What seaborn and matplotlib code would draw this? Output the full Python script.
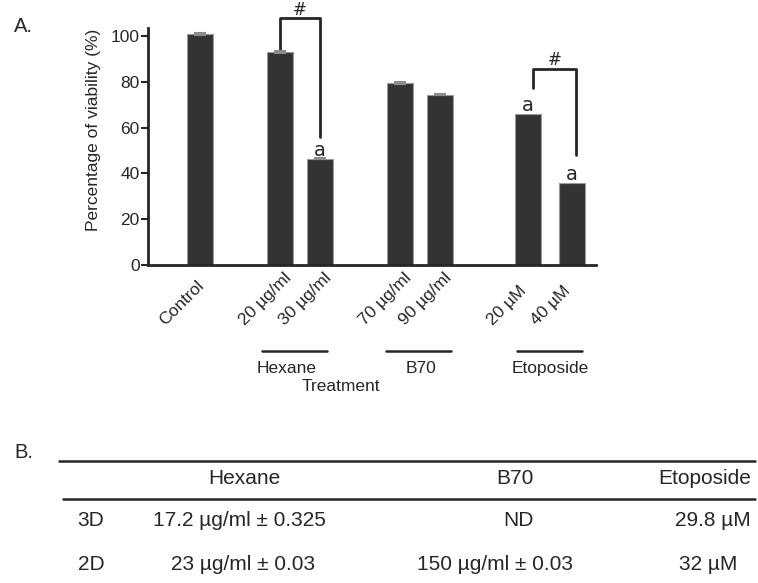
import matplotlib
matplotlib.use("Agg")
import matplotlib.pyplot as plt
from matplotlib import transforms
import numpy as np
import pandas as pd
import seaborn as sns

# ---- data -------------------------------------------------------------
treatments = ["Control", "20 µg/ml", "30 µg/ml", "70 µg/ml", "90 µg/ml", "20 µM", "40 µM"]
viability = [100.9, 92.9, 46.5, 79.6, 74.4, 66.0, 35.8]
viability_err = [0.4, 0.4, 0.4, 0.5, 0.3, 0.0, 0.0]
significance = ["", "", "a", "", "", "a", "a"]
groups = ["Hexane", "B70", "Etoposide"]

table_cols = ["Hexane", "B70", "Etoposide"]
table_rows = ["3D", "2D"]
ic50_3d = ["17.2 µg/ml ± 0.325", "ND", "29.8 µM"]
ic50_2d = ["23 µg/ml ± 0.03", "150 µg/ml ± 0.03", "32 µM"]

# ---- layout -----------------------------------------------------------
bar_pos = [0, 2, 3, 5, 6, 8.2, 9.3]
group_spans = [(1.55, 3.175), (4.65, 6.275), (7.925, 9.55)]
group_label_x = [2.175, 5.525, 8.75]

INK = "#262626"
BAR = "#333333"

sns.set_theme(style="white")
plt.rcParams["font.family"] = ["Liberation Sans", "DejaVu Sans"]
plt.rcParams["text.color"] = INK

W, H = 758, 583
fig = plt.figure(figsize=(W / 100, H / 100), dpi=100)

# overlay in pixel coordinates for panel letters and the IC50 table
ax_t = fig.add_axes([0, 0, 1, 1], zorder=-1)
ax_t.set_xlim(0, W)
ax_t.set_ylim(H, 0)
ax_t.axis("off")

# ---- panel A: bar chart ----------------------------------------------
ax = fig.add_axes([148 / W, 1 - 265 / H, 448 / W, 237 / H])
df = pd.DataFrame({"pos": bar_pos, "viability": viability, "treatment": treatments})
sns.barplot(data=df, x="pos", y="viability", native_scale=True, width=0.67,
            color=BAR, saturation=1, edgecolor="#9a9a9a", linewidth=0.8,
            errorbar=None, ax=ax)

err_x = [p for p, e in zip(bar_pos, viability_err) if e > 0]
err_y = [v for v, e in zip(viability, viability_err) if e > 0]
err_e = [e for e in viability_err if e > 0]
ax.errorbar(err_x, err_y, yerr=err_e, fmt="none", ecolor="#8c8c8c",
            elinewidth=1, capsize=4, capthick=1.5, zorder=3)

ax.set_xlim(-1.3, 9.9)
ax.set_ylim(0, 103.5)
ax.set_yticks([0, 20, 40, 60, 80, 100])
ax.set_xticks([])
sns.despine(ax=ax)
for side in ("left", "bottom"):
    ax.spines[side].set_linewidth(2)
    ax.spines[side].set_color(INK)
ax.tick_params(axis="y", left=True, length=5, width=1.5, direction="out",
               labelsize=12.5, colors=INK, pad=1)
ax.set_ylabel("Percentage of viability (%)", fontsize=12.5, color=INK)
ax.yaxis.set_label_coords(-0.105, 0.57)
ax.set_xlabel("Treatment", fontsize=12.5, color=INK, va="top")
ax.xaxis.set_label_coords(0.431, -0.481)

# rotated treatment labels
blend = transforms.blended_transform_factory(ax.transData, ax.transAxes)
shift = transforms.ScaledTranslation(-0.35, 0, fig.dpi_scale_trans)
for p, lab in zip(bar_pos, treatments):
    ax.text(p, -0.257, lab, transform=blend + shift, rotation=45,
            ha="left", va="baseline", rotation_mode="anchor",
            fontsize=12.5, color=INK)

# group underlines and names
for (x0, x1), gx, g in zip(group_spans, group_label_x, groups):
    ax.plot([x0, x1], [-0.363, -0.363], transform=blend, clip_on=False,
            color=INK, lw=1.8)
    ax.text(gx, -0.435, g, transform=blend, ha="center", va="center",
            fontsize=12.5, color=INK)

# significance letters
for p, v, s in zip(bar_pos, viability, significance):
    if s:
        ax.text(p, v + 1.3, s, ha="center", va="baseline", fontsize=14,
                family="DejaVu Sans", color=INK)

# comparison brackets
ax.plot([2, 2, 3, 3], [94, 108, 108, 56], color=INK, lw=2, clip_on=False)
ax.text(2.5, 109.2, "#", ha="center", va="baseline", fontsize=12,
        family="DejaVu Sans", color=INK, clip_on=False)
ax.plot([8.32, 8.32, 9.4, 9.4], [77.3, 85.6, 85.6, 48], color=INK, lw=2,
        clip_on=False)
ax.text(8.86, 87.3, "#", ha="center", va="baseline", fontsize=12,
        family="DejaVu Sans", color=INK)

# ---- panel letters ----------------------------------------------------
ax_t.text(14, 27, "A.", ha="left", va="center", fontsize=14.5, color=INK)
ax_t.text(14, 452, "B.", ha="left", va="center", fontsize=14.5, color=INK)

# ---- panel B: IC50 table ---------------------------------------------
ax_t.plot([59, 755], [461, 461], color=INK, lw=1.8)
ax_t.plot([63, 755], [499, 499], color=INK, lw=1.8)

header_x = [244, 515, 705]
row_y = [520, 564]
row_label_x = 91
cell_x = [[239, 518, 713], [243, 495, 708]]

for x, c in zip(header_x, table_cols):
    ax_t.text(x, 479, c, ha="center", va="center", fontsize=15, color=INK)
for y, r, vals, xs in zip(row_y, table_rows, [ic50_3d, ic50_2d], cell_x):
    ax_t.text(row_label_x, y, r, ha="center", va="center", fontsize=15, color=INK)
    for x, v in zip(xs, vals):
        ax_t.text(x, y, v, ha="center", va="center", fontsize=15, color=INK)

fig.savefig("out.png", dpi=100)
